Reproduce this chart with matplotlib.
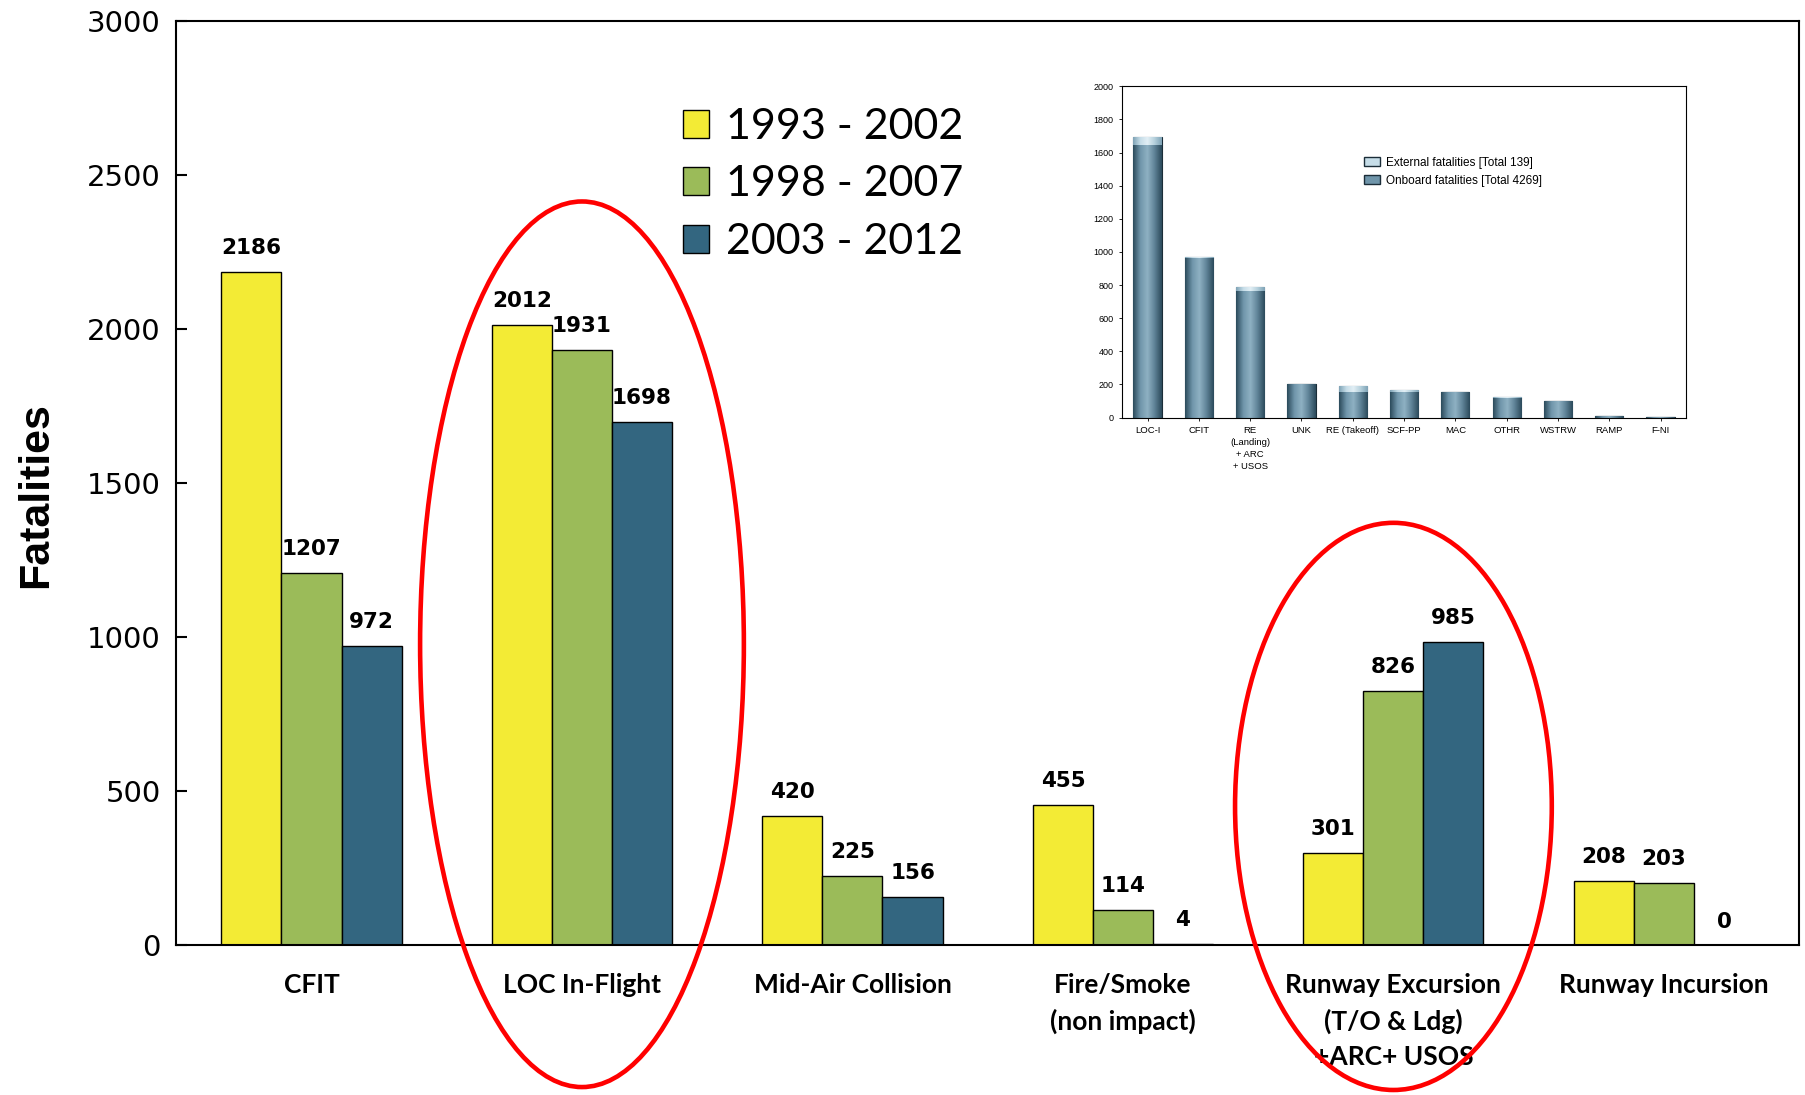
import numpy as np
import matplotlib
matplotlib.use('Agg')
import matplotlib.pyplot as plt
from matplotlib.patches import Ellipse, Patch
from matplotlib.colors import LinearSegmentedColormap

# main chart data
categories = ['CFIT', 'LOC In-Flight', 'Mid-Air Collision', 'Fire/Smoke\n(non impact)',
              'Runway Excursion\n(T/O & Ldg)\n+ARC+ USOS', 'Runway Incursion']
periods = ['1993 - 2002', '1998 - 2007', '2003 - 2012']
vals_1993 = [2186, 2012, 420, 455, 301, 208]
vals_1998 = [1207, 1931, 225, 114, 826, 203]
vals_2003 = [972, 1698, 156, 4, 985, 0]
colors = ['#F3EB35', '#9BBB59', '#336680']
y_ticks = [0, 500, 1000, 1500, 2000, 2500, 3000]

# inset data
inset_cats = ['LOC-I', 'CFIT', 'RE\n(Landing)\n+ ARC\n+ USOS', 'UNK', 'RE (Takeoff)', 'SCF-PP',
              'MAC', 'OTHR', 'WSTRW', 'RAMP', 'F-NI']
onboard = [1648, 965, 765, 200, 155, 154, 152, 120, 98, 7, 5]
external = [47, 6, 25, 0, 36, 10, 4, 2, 2, 1, 1]
inset_ticks = list(range(0, 2001, 200))

fig = plt.figure(figsize=(18.06, 10.95), dpi=100)
ax = fig.add_axes([0.0976, 0.1366, 0.8986, 0.8445])

x = np.arange(len(categories))
width = 0.222
for i, (vals, color, label) in enumerate(zip([vals_1993, vals_1998, vals_2003], colors, periods)):
    bars = ax.bar(x + (i - 1) * width, vals, width, color=color, edgecolor='black',
                  linewidth=1, label=label, zorder=2)
    for b, v in zip(bars, vals):
        ax.annotate(f'{v}', (b.get_x() + b.get_width() / 2, v), xytext=(0, 10),
                    textcoords='offset points', ha='center', va='bottom',
                    fontsize=15.5, fontweight='bold', family='DejaVu Sans')

ax.set_xlim(-0.5, len(categories) - 0.5)
ax.set_ylim(0, 3000)
ax.set_yticks(y_ticks)
ax.set_yticklabels([str(t) for t in y_ticks], fontsize=21, family='DejaVu Sans')
ax.tick_params(axis='y', direction='in', length=8, width=1.5, pad=11)
ax.set_xticks(x)
ax.set_xticklabels(categories, fontsize=19, fontweight='bold', family=['Lato', 'DejaVu Sans'])
ax.tick_params(axis='x', length=0, pad=20)
for t in ax.get_xticklabels():
    t.set_linespacing(1.55)
for s in ax.spines.values():
    s.set_linewidth(1.5)

fig.text(0.02, 0.548, 'Fatalities', rotation=90, ha='center', va='center', fontsize=31,
         fontweight='bold', family=['Liberation Sans Narrow', 'Liberation Sans', 'DejaVu Sans'])

ax.legend(loc='upper left', bbox_to_anchor=(0.366, 0.921), bbox_transform=fig.transFigure,
          frameon=False, handlelength=0.62, handleheight=0.62, handletextpad=0.4,
          labelspacing=0.45, borderpad=0, prop={'family': ['Lato', 'DejaVu Sans'], 'size': 31})

# red highlight ellipses
ax.add_patch(Ellipse((1, 977), 1.197, 2873, fill=False, edgecolor='red', linewidth=3.3,
                     clip_on=False, zorder=5))
ax.add_patch(Ellipse((4, 451), 1.171, 1840, fill=False, edgecolor='red', linewidth=3.3,
                     clip_on=False, zorder=5))

# inset chart
ins = fig.add_axes([0.6212, 0.6187, 0.3125, 0.3025])
xi = np.arange(len(inset_cats))
cmap_on = LinearSegmentedColormap.from_list('on', ['#2c4b5c', '#6f95aa', '#8fb1c3', '#5f8397', '#2c4b5c'])
cmap_ex = LinearSegmentedColormap.from_list('ex', ['#7fa3b6', '#c6dde8', '#e2eff5', '#b5d0dc', '#7fa3b6'])
grad = np.linspace(0, 1, 64).reshape(1, -1)
b_on = ins.bar(xi, onboard, 0.55, color='#6f95aa', edgecolor='#1b2d38', linewidth=0.8)
b_ex = ins.bar(xi, external, 0.55, bottom=onboard, color='#c6dde8', edgecolor='#1b2d38', linewidth=0.8)
for bars, cmap in [(b_on, cmap_on), (b_ex, cmap_ex)]:
    for b in bars:
        if b.get_height() <= 0:
            continue
        im = ins.imshow(grad, extent=[b.get_x(), b.get_x() + b.get_width(), b.get_y(),
                                      b.get_y() + b.get_height()],
                        aspect='auto', cmap=cmap, zorder=2)
        im.set_clip_path(b)
ins.set_xlim(-0.5, len(inset_cats) - 0.5)
ins.set_ylim(0, 2000)
ins.set_yticks(inset_ticks)
ins.set_yticklabels([str(t) for t in inset_ticks], fontsize=6.5, family='Liberation Sans')
ins.set_xticks(xi)
ins.set_xticklabels(inset_cats, fontsize=6.8, family=['Liberation Sans Narrow', 'Liberation Sans'])
for t in ins.get_xticklabels():
    t.set_linespacing(1.45)
ins.tick_params(axis='both', length=2, width=0.6, pad=4)
for s in ins.spines.values():
    s.set_linewidth(0.8)
ins.legend(handles=[Patch(facecolor='#c6dde8', edgecolor='#1b2d38', label='External fatalities [Total 139]'),
                    Patch(facecolor='#6f95aa', edgecolor='#1b2d38', label='Onboard fatalities [Total 4269]')],
           loc='upper left', bbox_to_anchor=(0.41, 0.82), frameon=False, handlelength=1.4,
           handleheight=0.8, handletextpad=0.5, labelspacing=0.55,
           prop={'family': ['Liberation Sans Narrow', 'Liberation Sans'], 'size': 8.5})

fig.savefig('out.png', dpi=100)
